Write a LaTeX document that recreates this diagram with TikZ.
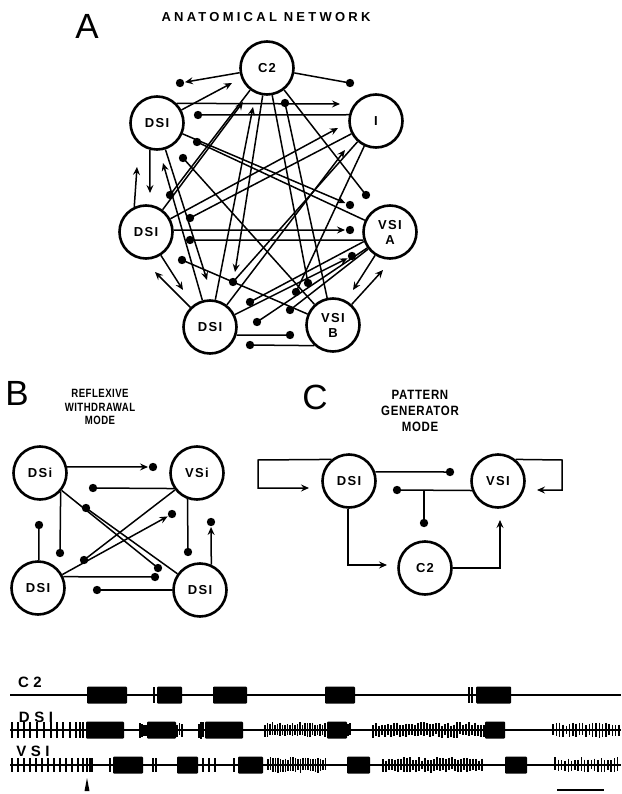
\documentclass[tikz,border=0pt]{standalone}
\usepackage{fontspec}
\setmainfont{Liberation Sans}
\newfontfamily\cellfont[LetterSpace=10]{Liberation Sans}
\newfontfamily\headfont[LetterSpace=25]{Liberation Sans}
\newfontfamily\narrowhead[FakeStretch=0.8,LetterSpace=4]{Liberation Sans}
\newfontfamily\modehead[FakeStretch=0.85,LetterSpace=5]{Liberation Sans}
\newfontfamily\tracefont[LetterSpace=30]{Liberation Sans}
\usetikzlibrary{arrows.meta,calc}

\tikzset{
  neuron/.style={circle,draw,line width=2.6pt,minimum size=53pt,inner sep=0pt,
    align=center,font=\cellfont\bfseries\fontsize{13}{15}\selectfont},
  syn/.style={line width=1.5pt},
  exc/.style={-{Stealth[length=8pt,width=7pt,inset=2.8pt]}},
  panel/.style={font=\fontsize{35}{36}\selectfont},
  spk/.style={line width=1.4pt},
  base/.style={line width=1.5pt},
}

% synapse helpers: inhibitory (dot), excitatory (arrow), arrow followed by dot
\newcommand\inhib[3]{\coordinate (#1) at (#3); \draw[syn] (#2) -- (#1); \fill (#1) circle (4.2pt);}
\newcommand\excit[3]{\coordinate (#1) at (#3); \draw[syn,exc] (#2) -- (#1);}
\newcommand\mixed[3]{\coordinate (#1) at (#3); \draw[syn,exc] (#2) -- ($(#1)!5pt!(#2)$); \fill (#1) circle (4.2pt);}

% recording helpers
\newcommand\burst[3]{\fill[rounded corners=1pt] (#1,#3-8.5) rectangle (#2,#3+8.5);}
\newcommand\train[5]{%
  \pgfmathsetmacro\tnext{#2+#4}%
  \foreach \tx in {#2,\tnext,...,#3}{%
    \pgfmathsetmacro\th{#5*(0.55+0.45*rnd)}%
    \pgfmathsetmacro\tl{#5*(0.55+0.45*rnd)}%
    \draw[spk] (\tx,#1-\th) -- (\tx,#1+\tl);
  }}
\newcommand\spikes[3]{\foreach \tx in {#2}{\draw[spk] (\tx,#1-#3) -- (\tx,#1+#3);}}

\begin{document}
\begin{tikzpicture}[x=1pt,y=-1pt]
\useasboundingbox (0,0) rectangle (621,794);
\pgfmathsetseed{11}

% ---------------- A: anatomical network ----------------
\node[panel] (labA) at (87,26) {A};
\node[font=\headfont\bfseries\fontsize{13}{13}\selectfont] (titA) at (266,17) {ANATOMICAL NETWORK};

\node[neuron] (Ac2) at (267,68) {C2};
\node[neuron] (Ai)  at (376,121) {I};
\node[neuron] (Ad1) at (157,123) {DSI};
\node[neuron] (Ad2) at (146,232) {DSI};
\node[neuron] (Ava) at (390,232) {VSI\\A};
\node[neuron] (Ad3) at (210,327) {DSI};
\node[neuron] (Avb) at (333,325) {VSI\\B};

\mixed{a1}{Ac2}{180,83}
\excit{a2}{Ad1}{232,83}
\inhib{a3}{Ac2}{350,83}
\excit{a4}{Ad1.45}{340,104}
\inhib{a5}{Ai.167}{198,115}
\inhib{a6}{Avb}{285,103}
\excit{a7}{Ad2}{243,102}
\excit{a8}{Ad3}{253,107}
\excit{a9}{Ad2}{338,128}
\excit{a10}{Ad3}{345,150}
\inhib{a11}{Ai}{190,218}
\inhib{a12}{Ac2}{170,195}
\excit{a13}{Ad2.115}{137,167}
\excit{a14}{Ad1.255}{150,193}
\excit{a15}{Ad3}{163,163}
\inhib{a16}{Ava}{197,142}
\inhib{a17}{Avb}{183,158}
\mixed{a18}{Ad1}{350,205}
\inhib{a19}{Ac2}{366,195}
\mixed{a20}{Ad2.4}{350,230}
\inhib{a21}{Ava.197}{190,240}
\mixed{a22}{Ad3}{352,256}
\excit{a23}{Ava}{353,290}
\excit{a24}{Avb}{383,270}
\inhib{a25}{Ava}{290,310}
\inhib{a26}{Ai}{296,292}
\inhib{a27}{Ad3.-17}{290,335}
\inhib{a28}{Avb.228}{250,345}
\excit{a29}{Ad2}{183,290}
\excit{a30}{Ad3}{155,272}
\inhib{a31}{Avb}{182,260}
\excit{a32}{Ac2}{235,272}
\inhib{a33}{Ai}{233,282}
\inhib{a34}{Ava.200}{250,302}
\inhib{a35}{Ava.215}{257,322}
\inhib{a36}{Ac2}{308,283}
\excit{a37}{Ad1}{207,280}

% ---------------- B: reflexive withdrawal mode ----------------
\node[panel] (labB) at (17,393) {B};
\node[font=\narrowhead\bfseries\fontsize{12}{13.5}\selectfont,align=center] (titB) at (100,407)
  {REFLEXIVE\\WITHDRAWAL\\MODE};

\node[neuron] (Bd1) at (40,473) {DSi};
\node[neuron] (Bv)  at (197,473) {VSi};
\node[neuron] (Bd2) at (38,588) {DSI};
\node[neuron] (Bd3) at (200,590) {DSI};

\mixed{b1}{Bd1.13}{153,467}
\inhib{b2}{Bv.214}{93,488}
\inhib{b3}{Bd1}{158,568}
\inhib{b4}{Bd3}{86,508}
\mixed{b5}{Bd2}{172,514}
\inhib{b6}{Bv}{84,560}
\inhib{b7}{Bd1.-42}{60,553}
\inhib{b8}{Bd2.88}{39,525}
\inhib{b9}{Bv.250}{188,552}
\mixed{b10}{Bd3.66}{211,522}
\inhib{b11}{Bd2.24}{155,577}
\inhib{b12}{Bd3.180}{97,590}

% ---------------- C: pattern generator mode ----------------
\node[panel] (labC) at (315,397) {C};
\node[font=\modehead\bfseries\fontsize{13.5}{16}\selectfont,align=center] (titC) at (420,411)
  {PATTERN\\GENERATOR\\MODE};

\node[neuron] (Cd) at (349,481) {DSI};
\node[neuron] (Cv) at (498,481) {VSI};
\node[neuron] (Cc) at (425,568) {C2};

\coordinate (c1) at (309,488);
\draw[syn,exc] (Cd.129) -- (258,460) -- (258,488) -- (c1);
\coordinate (c2) at (537,490);
\draw[syn,exc] (Cv.51) -- (562,460) -- (562,490) -- (c2);
\inhib{c3}{Cd.19}{450,472}
\inhib{c4}{Cv.200}{397,490}
\coordinate (c5a) at (424,490);
\coordinate (c5) at (424,523);
\draw[syn] (c5a) -- (c5); \fill (c5) circle (4.2pt);
\coordinate (c6) at (387,565);
\draw[syn,exc] (Cd.268) |- (c6);
\coordinate (c7) at (500,520);
\draw[syn,exc] (Cc.0) -| (c7);

% ---------------- recordings ----------------
\node[font=\tracefont\bfseries\fontsize{15}{15}\selectfont] (tC2) at (30,682) {C2};
\node[font=\tracefont\bfseries\fontsize{15}{15}\selectfont] (tDS) at (36,717) {DSI};
\node[font=\tracefont\bfseries\fontsize{15}{15}\selectfont] (tVS) at (33,751) {VSI};

% C2 trace
\draw[base] (10,695) -- (621,695);
\draw[line width=2.4pt] (393,695) -- (420,695);
\burst{87}{127}{695} \burst{157}{182}{695} \burst{213}{247}{695}
\burst{325}{355}{695} \burst{476}{511}{695}
\spikes{695}{154,214,469,472}{8}

% DSI trace
\draw[base] (10,730) -- (621,730);
\spikes{730}{12,18,24,30,37,44,51,57,63,70,76,80,83}{8}
\burst{86}{124}{730} \burst{147}{176}{730} \burst{205}{243}{730}
\burst{327}{347}{730} \burst{485}{505}{730}
\train{730}{140}{146}{2}{8}
\train{730}{177}{182}{2.5}{8}
\train{730}{199}{204}{2}{9}
\train{730}{265}{325}{2.5}{8}
\train{730}{348}{351}{2}{8}
\train{730}{373}{484}{3}{8}
\train{730}{553}{621}{3.3}{8}

% VSI trace
\draw[base] (10,765) -- (621,765);
\spikes{765}{12,18,24,30,36,42,48,54,60,66,72,78,83,87,90,92}{7}
\burst{113}{143}{765} \burst{177}{198}{765} \burst{238}{263}{765}
\burst{347}{370}{765} \burst{505}{527}{765}
\spikes{765}{110,153,156,203,209,215,234}{7}
\train{765}{268}{327}{2.5}{8}
\train{765}{383}{483}{3}{8}
\train{765}{555}{621}{3.3}{8}

% stimulus marker and time bar
\fill (84.5,791) -- (87,778) -- (89.5,791) -- cycle;
\draw[line width=1.6pt] (557,790) -- (604,790);
\end{tikzpicture}
\end{document}
